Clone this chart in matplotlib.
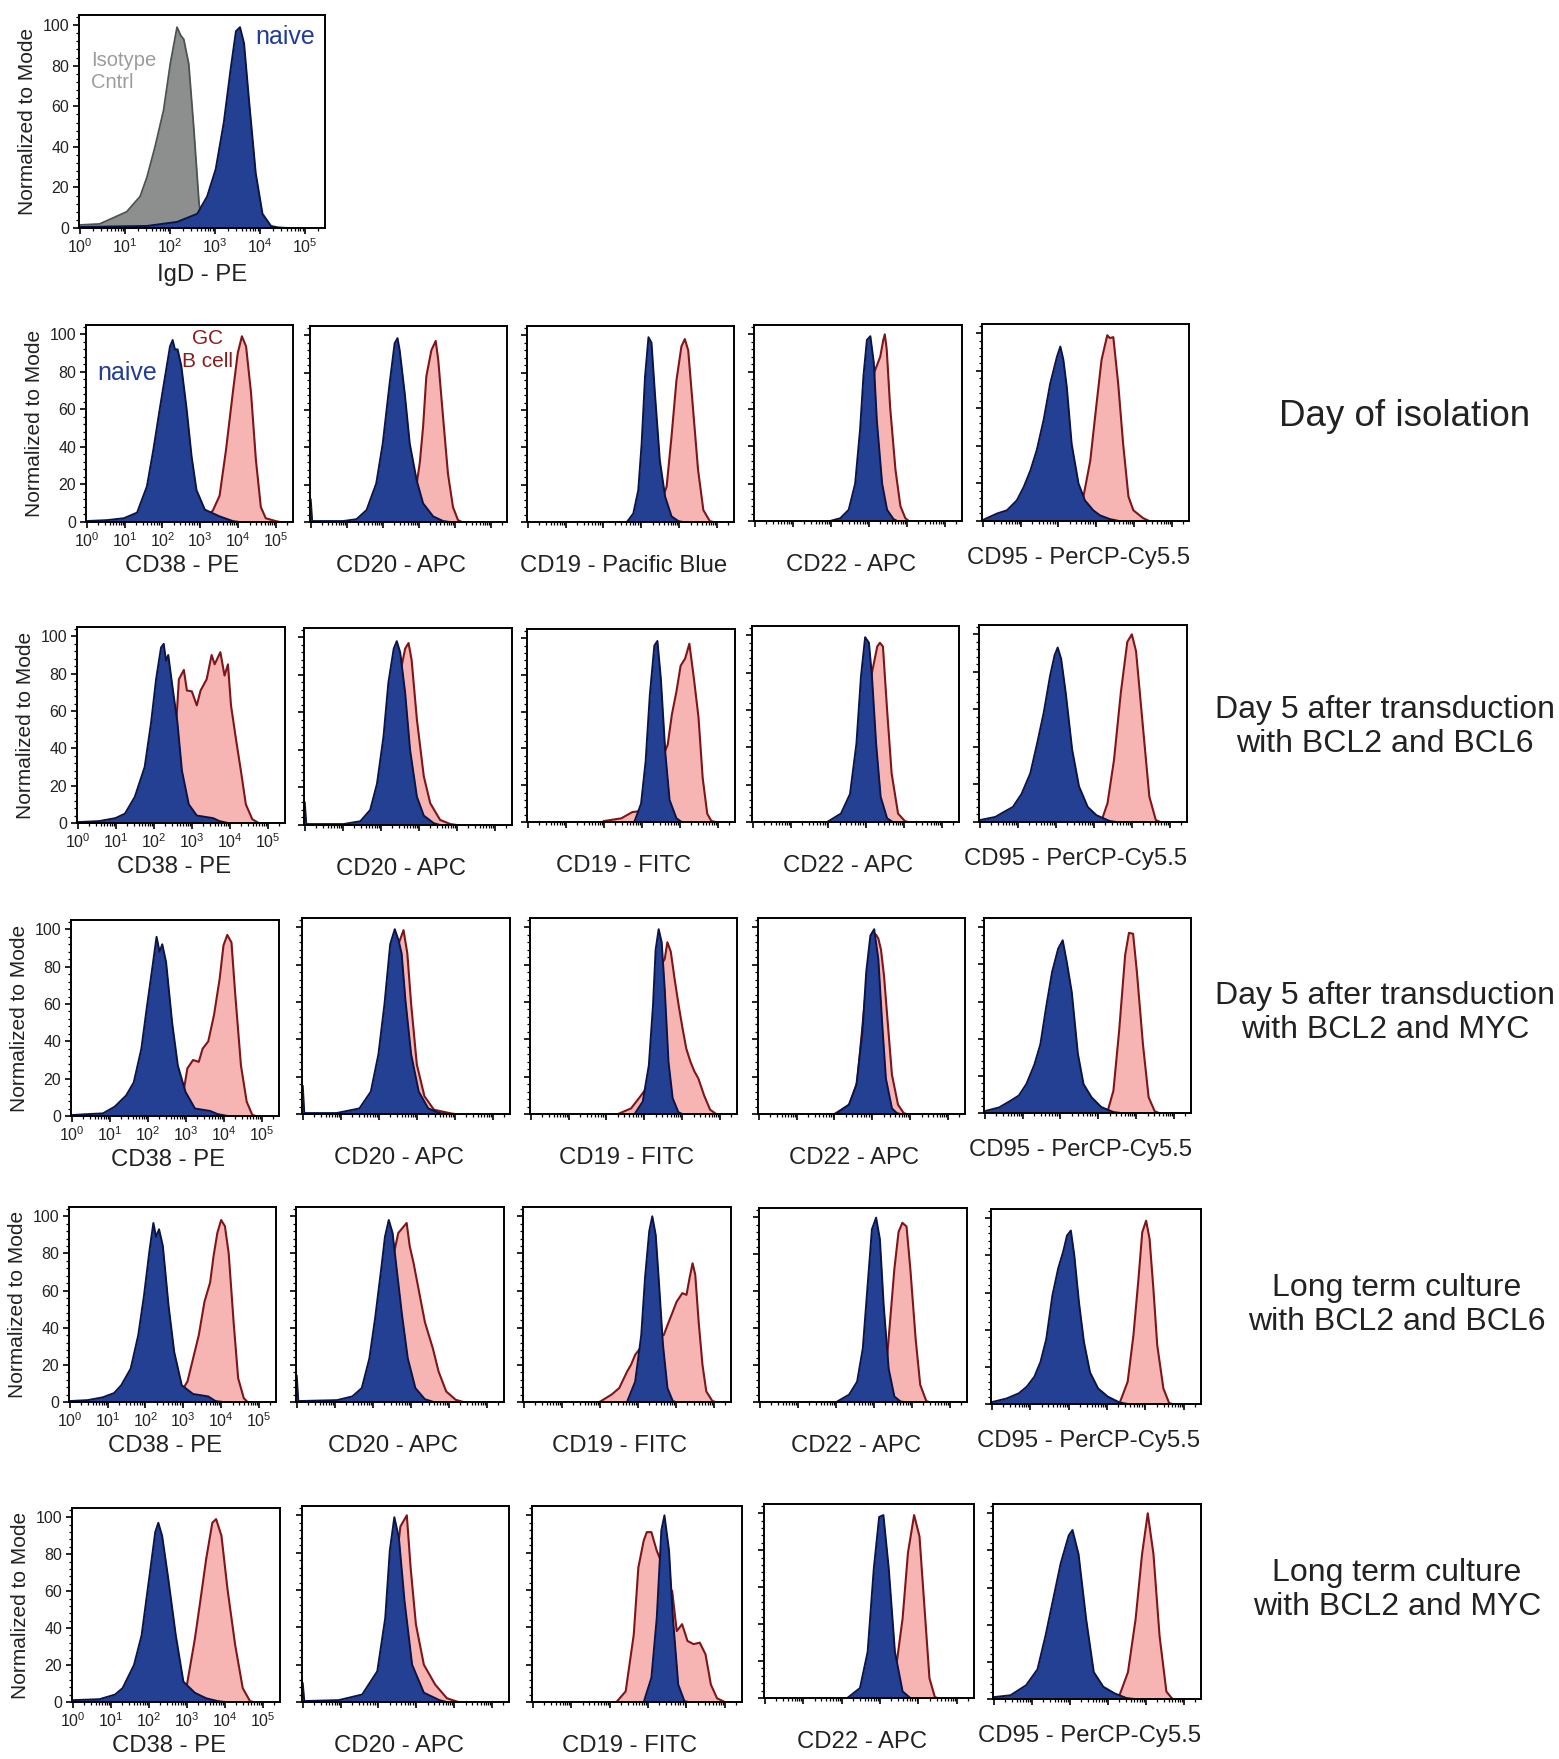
import matplotlib
matplotlib.use("Agg")
import matplotlib.pyplot as plt
import numpy as np
from matplotlib.ticker import FixedLocator, LogLocator, MultipleLocator, NullFormatter

plt.rcParams["font.family"] = ["Liberation Sans", "DejaVu Sans"]
plt.rcParams["mathtext.fontset"] = "custom"
plt.rcParams["mathtext.rm"] = "Liberation Sans"
plt.rcParams["mathtext.it"] = "Liberation Sans:italic"
plt.rcParams["mathtext.bf"] = "Liberation Sans:bold"

# ------------------------------------------------------------
# Histogram outlines: (log10 intensity, % of mode)
# ------------------------------------------------------------

# IgD - PE (top panel)
igd_isotype = [(0, 1.5), (0.44, 2), (1.04, 8), (1.34, 15.6), (1.49, 25), (1.67, 40), (1.86, 58),
               (2.01, 81), (2.16, 99), (2.24, 95), (2.31, 93), (2.42, 81), (2.53, 50), (2.65, 12),
               (2.72, 3), (2.83, 0)]
igd_naive = [(0, 0.5), (1.49, 1), (2.16, 3), (2.61, 7), (2.83, 15.6), (3.02, 29), (3.2, 52), (3.35, 78),
             (3.47, 97), (3.56, 99), (3.65, 91), (3.76, 63), (3.91, 27), (4.06, 7), (4.25, 1), (4.4, 0.3),
             (4.6, 0)]

# Day of isolation
r1_cd38_blue = [(0, 0.5), (0.54, 1), (0.98, 2), (1.33, 5), (1.59, 19), (1.76, 38.5), (1.94, 61.6),
                (2.07, 77.6), (2.2, 93.6), (2.27, 97), (2.33, 92), (2.4, 92), (2.5, 83), (2.64, 60),
                (2.77, 35), (2.9, 17), (3.12, 6.6), (3.51, 3), (3.86, 0.5), (4.03, 0)]
r1_cd38_pink = [(3.0, 0), (3.16, 3), (3.33, 6), (3.51, 14), (3.68, 38.5), (3.86, 69), (3.99, 90),
                (4.1, 99), (4.21, 93.6), (4.34, 69), (4.47, 33), (4.6, 8), (4.73, 2), (4.99, 0.5), (5.1, 0)]
r1_cd20_blue = [(0, 12), (0.04, 0.5), (0.9, 0.5), (1.27, 1.5), (1.55, 6.4), (1.82, 20.7), (2.0, 42),
                (2.19, 74), (2.33, 95.7), (2.41, 98.5), (2.47, 92), (2.61, 69), (2.75, 42), (2.94, 22.5),
                (3.12, 10), (3.4, 3), (3.68, 0.5), (3.86, 0)]
r1_cd20_pink = [(2.5, 0), (2.75, 8), (2.94, 20), (3.03, 32), (3.12, 51), (3.21, 78), (3.35, 92),
                (3.47, 97), (3.54, 87), (3.68, 55), (3.81, 26), (3.95, 8), (4.09, 1), (4.2, 0)]
r1_cd19_blue = [(2.62, 0), (2.79, 4.6), (2.92, 17), (3.01, 42), (3.1, 78), (3.19, 99), (3.27, 96),
                (3.36, 69), (3.49, 33), (3.63, 13.6), (3.8, 3), (3.98, 0.5), (4.1, 0)]
r1_cd19_pink = [(3.2, 0), (3.4, 5), (3.55, 12), (3.67, 19), (3.8, 46), (3.93, 76), (4.06, 94), (4.15, 98),
                (4.24, 92), (4.37, 60), (4.5, 28), (4.64, 6.4), (4.81, 0.5), (4.9, 0)]
r1_cd22_blue = [(1.98, 0), (2.25, 1.5), (2.47, 6), (2.64, 20), (2.77, 49), (2.86, 78), (2.95, 97),
                (3.04, 99), (3.13, 85), (3.21, 54), (3.35, 20), (3.48, 6), (3.65, 1), (3.75, 0)]
r1_cd22_pink = [(2.6, 0), (2.8, 10), (3.0, 50), (3.15, 80), (3.3, 88), (3.38, 97), (3.42, 100),
                (3.47, 92), (3.56, 61), (3.7, 27.5), (3.83, 8), (3.96, 1.5), (4.05, 0)]
r1_cd95_blue = [(0, 0.5), (0.38, 4), (0.64, 5.7), (0.9, 11), (1.08, 18), (1.26, 27), (1.43, 38), (1.61, 54),
                (1.78, 73), (1.96, 87.5), (2.05, 93), (2.13, 86), (2.22, 71.5), (2.35, 41), (2.53, 20),
                (2.7, 11), (2.92, 5.7), (3.1, 3), (3.36, 1), (3.6, 0)]
r1_cd95_pink = [(2.3, 0), (2.5, 5), (2.66, 13), (2.84, 32), (3.01, 63), (3.14, 86), (3.29, 99),
                (3.36, 97.5), (3.45, 98), (3.58, 73), (3.71, 41), (3.85, 13), (3.98, 5.7), (4.24, 1.5),
                (4.4, 0)]

# Day 5 after transduction with BCL2 and BCL6
r2_cd38_blue = [(0, 0.5), (0.56, 1), (0.99, 2.6), (1.24, 5), (1.5, 14), (1.76, 30), (1.93, 54), (2.06, 77),
                (2.19, 94), (2.26, 96), (2.32, 87), (2.38, 90), (2.49, 73), (2.62, 54), (2.74, 28),
                (2.92, 10), (3.13, 4), (3.56, 2.6), (3.73, 1), (3.95, 0)]
r2_cd38_pink = [(1.9, 0), (2.2, 10), (2.45, 35), (2.6, 57), (2.66, 77), (2.79, 82), (2.87, 71),
                (3.0, 70.5), (3.13, 63), (3.23, 71), (3.39, 77), (3.52, 90), (3.6, 85), (3.75, 91.5),
                (3.86, 79), (3.95, 85), (4.03, 63), (4.16, 45), (4.29, 28), (4.42, 10), (4.59, 2), (4.76, 0)]
r2_cd20_blue = [(0, 12), (0.04, 0.5), (1.02, 0.5), (1.46, 2), (1.72, 8), (1.9, 22), (2.07, 47), (2.2, 76),
                (2.34, 94), (2.42, 98), (2.51, 92), (2.64, 70.5), (2.77, 40), (2.95, 15), (3.13, 5),
                (3.39, 1), (3.56, 0)]
r2_cd20_pink = [(1.9, 0), (2.2, 30), (2.4, 70), (2.55, 85), (2.64, 94), (2.73, 97), (2.81, 88),
                (2.95, 56), (3.13, 26), (3.3, 11.6), (3.56, 2.7), (3.83, 0.5), (4.0, 0)]
r2_cd19_blue = [(2.81, 0.5), (2.98, 10), (3.1, 33), (3.21, 69), (3.33, 96), (3.41, 98.5), (3.5, 78),
                (3.62, 37), (3.73, 12), (3.91, 2), (4.05, 0)]
r2_cd19_pink = [(2.0, 0.5), (2.46, 2), (2.75, 5.4), (3.0, 6), (3.2, 10), (3.45, 25), (3.6, 38), (3.68, 42),
                (3.79, 58.5), (3.91, 71), (4.02, 85), (4.14, 89), (4.25, 97), (4.37, 78), (4.49, 57),
                (4.6, 24), (4.72, 4.5), (4.83, 0.5), (4.95, 0)]
r2_cd22_blue = [(1.99, 0.3), (2.33, 4.5), (2.57, 15), (2.74, 42), (2.86, 78), (2.97, 99), (3.07, 96),
                (3.15, 78), (3.26, 42), (3.38, 13.5), (3.55, 2), (3.7, 0)]
r2_cd22_pink = [(2.6, 0), (2.9, 30), (3.1, 70), (3.15, 80), (3.29, 94), (3.36, 96), (3.44, 94),
                (3.55, 60), (3.67, 26), (3.84, 4.5), (4.02, 0.5), (4.1, 0)]
r2_cd95_blue = [(0, 1), (0.41, 2.7), (0.64, 5.4), (0.87, 8), (1.1, 15), (1.33, 26), (1.51, 42), (1.68, 58),
                (1.85, 78), (1.97, 89), (2.05, 93), (2.14, 87), (2.26, 69), (2.43, 38.6), (2.61, 19),
                (2.84, 8), (3.07, 3.6), (3.42, 0.5), (3.6, 0)]
r2_cd95_pink = [(3.19, 0), (3.36, 10), (3.53, 33), (3.71, 69), (3.88, 96), (4.0, 100), (4.11, 91),
                (4.29, 51), (4.46, 13.5), (4.63, 1), (4.75, 0)]

# Day 5 after transduction with BCL2 and MYC
r3_cd38_blue = [(0, 0.5), (0.42, 1), (0.82, 1.4), (1.13, 5), (1.43, 11), (1.63, 18), (1.83, 36), (1.98, 59),
                (2.13, 81), (2.23, 96), (2.31, 88), (2.38, 92), (2.48, 82.5), (2.64, 50), (2.79, 27),
                (2.99, 13), (3.24, 4), (3.64, 2.7), (3.84, 1), (4.1, 0)]
r3_cd38_pink = [(2.5, 0), (2.8, 8), (2.94, 13), (3.04, 25.5), (3.19, 30), (3.34, 29), (3.44, 36),
                (3.59, 40), (3.74, 54), (3.89, 73.6), (3.99, 91.4), (4.09, 97), (4.2, 93), (4.3, 65),
                (4.45, 27), (4.6, 7.7), (4.75, 0.5), (4.85, 0)]
r3_cd20_blue = [(0, 15), (0.04, 0.5), (0.89, 0.5), (1.49, 3), (1.79, 12), (1.99, 32), (2.15, 59), (2.3, 91),
                (2.42, 99), (2.52, 93), (2.6, 86), (2.7, 61), (2.85, 32), (3.05, 12), (3.3, 3), (3.6, 0.5),
                (3.8, 0)]
r3_cd20_pink = [(1.8, 0), (2.2, 40), (2.5, 90), (2.65, 98.5), (2.75, 86), (2.85, 59), (3.0, 26.5),
                (3.2, 9.5), (3.45, 2.3), (3.9, 0.3), (4.0, 0)]
r3_cd19_blue = [(2.76, 0.5), (2.96, 6.7), (3.12, 26), (3.23, 58), (3.3, 88), (3.38, 99), (3.46, 92),
                (3.54, 67), (3.64, 28), (3.75, 8.5), (3.9, 1), (4.0, 0)]
r3_cd19_pink = [(2.34, 0.3), (2.65, 3), (2.86, 8.5), (3.1, 15), (3.3, 50), (3.45, 80), (3.54, 83),
                (3.61, 92), (3.7, 87), (3.8, 72.5), (3.91, 58), (4.01, 46), (4.11, 35), (4.22, 28),
                (4.32, 23), (4.43, 19), (4.58, 10), (4.74, 2.3), (4.9, 0)]
r3_cd22_blue = [(2.06, 0.5), (2.38, 5), (2.58, 15.6), (2.74, 44), (2.84, 76), (2.95, 95.6), (3.05, 99),
                (3.16, 83), (3.26, 49), (3.36, 19), (3.52, 3), (3.65, 0.5), (3.75, 0)]
r3_cd22_pink = [(2.0, 0), (2.4, 5), (2.6, 17), (2.8, 60), (3.0, 97), (3.1, 96), (3.16, 94), (3.23, 88),
                (3.31, 74), (3.42, 46), (3.52, 21), (3.68, 5), (3.83, 0.5), (3.9, 0)]
r3_cd95_blue = [(0, 1), (0.38, 3), (0.69, 6.7), (0.9, 9.4), (1.1, 15.6), (1.31, 26), (1.47, 37), (1.63, 58),
                (1.78, 76), (1.94, 88.5), (2.06, 93), (2.17, 81), (2.3, 65), (2.46, 32), (2.61, 15.6),
                (2.82, 8.5), (3.08, 3.2), (3.4, 0.5), (3.6, 0)]
r3_cd95_pink = [(3.24, 0.5), (3.4, 12), (3.55, 44), (3.71, 85), (3.81, 97), (3.92, 96.5), (4.02, 76),
                (4.18, 37), (4.33, 8.5), (4.49, 1), (4.6, 0)]

# Long term culture with BCL2 and BCL6
r4_cd38_blue = [(0, 0.5), (0.47, 1), (0.87, 2.5), (1.17, 4.8), (1.36, 9), (1.61, 18), (1.81, 36), (1.96, 57),
                (2.11, 82), (2.21, 96.4), (2.28, 89), (2.36, 93), (2.46, 84), (2.61, 52), (2.76, 27),
                (2.96, 9), (3.26, 4.3), (3.66, 3), (3.85, 0.5), (4.05, 0)]
r4_cd38_pink = [(2.6, 0), (2.9, 4), (3.11, 11), (3.26, 23.5), (3.41, 36), (3.56, 54), (3.71, 64.4),
                (3.8, 78.6), (3.9, 91), (4.0, 98), (4.1, 94.7), (4.2, 80), (4.33, 43), (4.45, 12.8),
                (4.6, 2), (4.7, 0)]
r4_cd20_blue = [(0, 14), (0.04, 0.5), (1.06, 1), (1.46, 3), (1.71, 7.5), (1.91, 23.5), (2.06, 45),
                (2.22, 71.5), (2.32, 89), (2.42, 98), (2.52, 91), (2.62, 73), (2.77, 46.6), (2.92, 23.5),
                (3.12, 7.5), (3.37, 1.5), (3.6, 0)]
r4_cd20_pink = [(1.9, 0), (2.2, 30), (2.45, 70), (2.67, 91), (2.82, 94.7), (2.89, 96.4), (2.97, 84),
                (3.07, 75), (3.22, 59), (3.37, 43), (3.58, 28.8), (3.73, 16.4), (3.93, 5.7), (4.18, 1.2),
                (4.38, 0)]
r4_cd19_blue = [(2.72, 0.3), (2.93, 11), (3.09, 36), (3.19, 67), (3.3, 92), (3.38, 100), (3.47, 90),
                (3.56, 63), (3.66, 31), (3.78, 7.5), (3.92, 0.5), (4.0, 0)]
r4_cd19_pink = [(1.99, 0), (2.31, 4), (2.51, 7.5), (2.72, 16.5), (2.82, 20), (2.93, 25.4), (3.1, 30),
                (3.3, 33), (3.5, 35), (3.68, 36), (3.81, 43), (3.92, 48.7), (4.02, 54), (4.17, 58.6),
                (4.28, 57.7), (4.36, 66.7), (4.44, 74.7), (4.51, 68.5), (4.6, 43), (4.7, 20), (4.8, 5.7),
                (4.96, 0.5), (5.05, 0)]
r4_cd22_blue = [(2.04, 0.3), (2.35, 4), (2.56, 11), (2.71, 29), (2.85, 66.7), (2.95, 93.5), (3.06, 99.8),
                (3.16, 88), (3.26, 52), (3.39, 18), (3.54, 3), (3.7, 0.3), (3.8, 0)]
r4_cd22_pink = [(2.9, 0), (3.1, 3), (3.25, 10), (3.34, 22), (3.44, 47), (3.54, 72), (3.65, 92), (3.75, 97),
                (3.86, 95), (3.96, 72), (4.1, 34), (4.22, 9.3), (4.38, 0.5), (4.45, 0)]
r4_cd95_blue = [(0, 1), (0.39, 3), (0.7, 5.7), (0.91, 9.3), (1.11, 14.7), (1.27, 22.7), (1.42, 35),
                (1.58, 58.5), (1.73, 73), (1.86, 82), (1.96, 90.7), (2.06, 93.4), (2.15, 80), (2.27, 55),
                (2.4, 33.5), (2.56, 17), (2.77, 8.4), (3.02, 4), (3.33, 0.8), (3.55, 0)]
r4_cd95_pink = [(3.33, 0.5), (3.54, 12), (3.69, 37), (3.82, 67), (3.92, 92.5), (4.02, 98.7), (4.11, 89),
                (4.21, 62), (4.31, 31.7), (4.47, 8.4), (4.62, 0.5), (4.7, 0)]

# Long term culture with BCL2 and MYC
r5_cd38_blue = [(0, 1), (0.7, 1.5), (1.11, 4), (1.31, 7.5), (1.61, 20), (1.81, 36), (2.01, 67), (2.17, 92),
                (2.25, 97), (2.35, 90), (2.51, 67), (2.71, 36), (2.91, 11), (3.21, 5), (3.51, 2),
                (3.81, 0.5), (4.0, 0)]
r5_cd38_pink = [(2.5, 0), (2.8, 3), (3.0, 9), (3.21, 34), (3.35, 54), (3.51, 77.6), (3.67, 97), (3.77, 99),
                (3.91, 90), (4.07, 61), (4.27, 31), (4.47, 7.5), (4.66, 0.5), (4.75, 0)]
r5_cd20_blue = [(0, 10), (0.04, 0.5), (0.95, 1), (1.57, 4), (1.97, 16.5), (2.18, 45), (2.3, 81), (2.42, 99),
                (2.54, 88), (2.69, 54), (2.89, 20), (3.2, 5), (3.61, 1), (3.8, 0)]
r5_cd20_pink = [(1.9, 0), (2.2, 30), (2.5, 80), (2.58, 94), (2.75, 100), (2.85, 72), (2.99, 41.6),
                (3.2, 20), (3.5, 9.3), (3.81, 2), (4.11, 0)]
r5_cd19_blue = [(2.89, 0), (3.09, 13), (3.23, 45), (3.35, 92), (3.43, 100), (3.55, 81), (3.65, 45),
                (3.79, 9.3), (3.95, 0.5), (4.05, 0)]
r5_cd19_pink = [(2.18, 0), (2.42, 5.7), (2.63, 36), (2.75, 72), (2.89, 86.5), (2.97, 91), (3.09, 91),
                (3.23, 81), (3.35, 75), (3.45, 62), (3.55, 60), (3.63, 59.6), (3.75, 38), (3.89, 41.7),
                (4.03, 32.7), (4.19, 31), (4.35, 31.8), (4.5, 25.5), (4.64, 9.3), (4.8, 2), (5.0, 0)]
r5_cd22_blue = [(2.18, 0.5), (2.48, 5.4), (2.68, 25), (2.84, 70), (2.98, 98), (3.09, 99), (3.23, 70),
                (3.39, 25), (3.59, 3.6), (3.79, 0)]
r5_cd22_pink = [(3.0, 0), (3.25, 5), (3.43, 18), (3.59, 43), (3.73, 78.6), (3.89, 99), (4.03, 87.5),
                (4.15, 52), (4.29, 10.7), (4.43, 0.5), (4.5, 0)]
r5_cd95_blue = [(0, 1), (0.44, 2), (0.85, 7.4), (1.15, 16), (1.36, 34), (1.56, 53.5), (1.76, 73), (1.97, 88),
                (2.07, 91), (2.23, 78), (2.43, 43), (2.63, 14.5), (2.88, 6.6), (3.18, 3), (3.49, 0.5),
                (3.7, 0)]
r5_cd95_pink = [(3.28, 0.5), (3.53, 14.5), (3.73, 43), (3.9, 78), (4.05, 100), (4.2, 78), (4.36, 34),
                (4.54, 4), (4.7, 0)]

row_titles = ["Day of isolation",
              "Day 5 after transduction\nwith BCL2 and BCL6",
              "Day 5 after transduction\nwith BCL2 and MYC",
              "Long term culture\nwith BCL2 and BCL6",
              "Long term culture\nwith BCL2 and MYC"]
row1_labels = ["CD38 - PE", "CD20 - APC", "CD19 - Pacific Blue", "CD22 - APC", "CD95 - PerCP-Cy5.5"]
other_labels = ["CD38 - PE", "CD20 - APC", "CD19 - FITC", "CD22 - APC", "CD95 - PerCP-Cy5.5"]

row_curves = [
    [(r1_cd38_blue, r1_cd38_pink), (r1_cd20_blue, r1_cd20_pink), (r1_cd19_blue, r1_cd19_pink),
     (r1_cd22_blue, r1_cd22_pink), (r1_cd95_blue, r1_cd95_pink)],
    [(r2_cd38_blue, r2_cd38_pink), (r2_cd20_blue, r2_cd20_pink), (r2_cd19_blue, r2_cd19_pink),
     (r2_cd22_blue, r2_cd22_pink), (r2_cd95_blue, r2_cd95_pink)],
    [(r3_cd38_blue, r3_cd38_pink), (r3_cd20_blue, r3_cd20_pink), (r3_cd19_blue, r3_cd19_pink),
     (r3_cd22_blue, r3_cd22_pink), (r3_cd95_blue, r3_cd95_pink)],
    [(r4_cd38_blue, r4_cd38_pink), (r4_cd20_blue, r4_cd20_pink), (r4_cd19_blue, r4_cd19_pink),
     (r4_cd22_blue, r4_cd22_pink), (r4_cd95_blue, r4_cd95_pink)],
    [(r5_cd38_blue, r5_cd38_pink), (r5_cd20_blue, r5_cd20_pink), (r5_cd19_blue, r5_cd19_pink),
     (r5_cd22_blue, r5_cd22_pink), (r5_cd95_blue, r5_cd95_pink)],
]

# ------------------------------------------------------------
# Layout (pixel boxes: left, right, top, bottom)
# ------------------------------------------------------------
W, H = 1559, 1759
top_box = (79, 325, 15, 228)
row_boxes = [
    [(86, 293, 325, 522), (310, 507, 326, 522), (527, 734, 326, 522), (754, 962, 325, 521), (982, 1189, 324, 521)],
    [(77, 285, 627, 823), (304, 512, 628, 825), (527, 735, 629, 822), (752, 959, 626, 822), (979, 1187, 625, 822)],
    [(71, 279, 920, 1116), (302, 510, 918, 1114), (530, 737, 918, 1114), (758, 965, 918, 1114), (984, 1191, 918, 1113)],
    [(69, 276, 1207, 1402), (296, 504, 1207, 1402), (523, 731, 1207, 1402), (759, 967, 1208, 1402), (991, 1201, 1209, 1404)],
    [(72, 280, 1508, 1702), (302, 509, 1506, 1702), (532, 742, 1506, 1702), (764, 974, 1504, 1698), (993, 1201, 1504, 1699)],
]
title_pos = [(1405, 416), (1385, 727), (1385, 1013), (1397, 1305), (1397, 1590)]

BLUE_FACE, BLUE_EDGE = "#234093", "#0b1446"
PINK_FACE, PINK_EDGE = "#f6b5b3", "#7e1518"
GRAY_FACE, GRAY_EDGE = "#8d8e8e", "#4b524f"
TEXT = "#222222"

fig = plt.figure(figsize=(W / 100, H / 100), dpi=100)


def make_axes(box, first_col):
    l, r, t, b = box
    ax = fig.add_axes([l / W, 1 - b / H, (r - l) / W, (b - t) / H])
    ax.set_xscale("log")
    ax.set_xlim(10 ** -0.02, 10 ** 5.45)
    ax.set_ylim(0, 105)
    ax.xaxis.set_major_locator(FixedLocator([1, 10, 100, 1e3, 1e4, 1e5]))
    ax.xaxis.set_minor_locator(LogLocator(base=10, subs=np.arange(2, 10), numticks=20))
    ax.xaxis.set_minor_formatter(NullFormatter())
    ax.yaxis.set_major_locator(MultipleLocator(20))
    ax.yaxis.set_minor_locator(MultipleLocator(4))
    ax.tick_params(which="major", direction="out", length=4, width=1.2, labelsize=11.5,
                   pad=3, colors="black", labelcolor=TEXT)
    ax.tick_params(which="minor", direction="out", length=2.2, width=0.9)
    for s in ax.spines.values():
        s.set_linewidth(1.4)
        s.set_zorder(6)
    if first_col:
        ax.set_xticklabels(["$10^{%d}$" % i for i in range(6)])
        fig.text((l - 51) / W, 1 - (t + b) / 2 / H, "Normalized to Mode", rotation=90,
                 ha="center", va="center", fontsize=15, color=TEXT)
    else:
        ax.set_xticklabels([])
        ax.set_yticklabels([])
    return ax


def draw_curve(ax, pts, face, edge, lw, z):
    d = np.array([p[0] for p in pts])
    y = np.array([p[1] for p in pts])
    x = 10 ** d
    ax.fill_between(x, 0, y, color=face, lw=0, zorder=z)
    ax.plot(x, y, color=edge, lw=lw, solid_joinstyle="round", zorder=z + 0.5)


# Top panel: IgD
ax = make_axes(top_box, True)
draw_curve(ax, igd_isotype, GRAY_FACE, GRAY_EDGE, 1.3, 1)
draw_curve(ax, igd_naive, BLUE_FACE, BLUE_EDGE, 1.4, 3)
ax.text(0.05, 0.735, "Isotype\nCntrl", transform=ax.transAxes, fontsize=14.5, color="#9c9c9c",
        ha="left", va="center", linespacing=1.2)
ax.text(0.96, 0.895, "naive", transform=ax.transAxes, fontsize=18, color="#233c98",
        ha="right", va="center")
l, r, t, b = top_box
fig.text((l + r) / 2 / W, 1 - 275 / H, "IgD - PE", ha="center", va="center", fontsize=17.2, color=TEXT)

# Marker rows
for i, (boxes, curves) in enumerate(zip(row_boxes, row_curves)):
    labels = row1_labels if i == 0 else other_labels
    for j, (box, (blue, pink)) in enumerate(zip(boxes, curves)):
        ax = make_axes(box, j == 0)
        draw_curve(ax, pink, PINK_FACE, PINK_EDGE, 1.5, 1)
        draw_curve(ax, blue, BLUE_FACE, BLUE_EDGE, 1.4, 3)
        l, r, t, b = box
        off = 37 if j == 4 else 44
        fig.text(((l + r) / 2 - 7) / W, 1 - (b + off) / H, labels[j], ha="center", va="center",
                 fontsize=17.2, color=TEXT)
        if i == 0 and j == 0:
            ax.text(0.198, 0.754, "naive", transform=ax.transAxes, fontsize=18, color="#233c98",
                    ha="center", va="center", zorder=7)
            ax.text(0.585, 0.873, "GC\nB cell", transform=ax.transAxes, fontsize=15, color="#8b1c1e",
                    ha="center", va="center", linespacing=1.3, zorder=7)
    x, y = title_pos[i]
    fs = 26.5 if i == 0 else 23
    fig.text(x / W, 1 - y / H, row_titles[i], ha="center", va="center", fontsize=fs,
             color=TEXT, linespacing=1.2)

fig.savefig("out.png", dpi=100)
